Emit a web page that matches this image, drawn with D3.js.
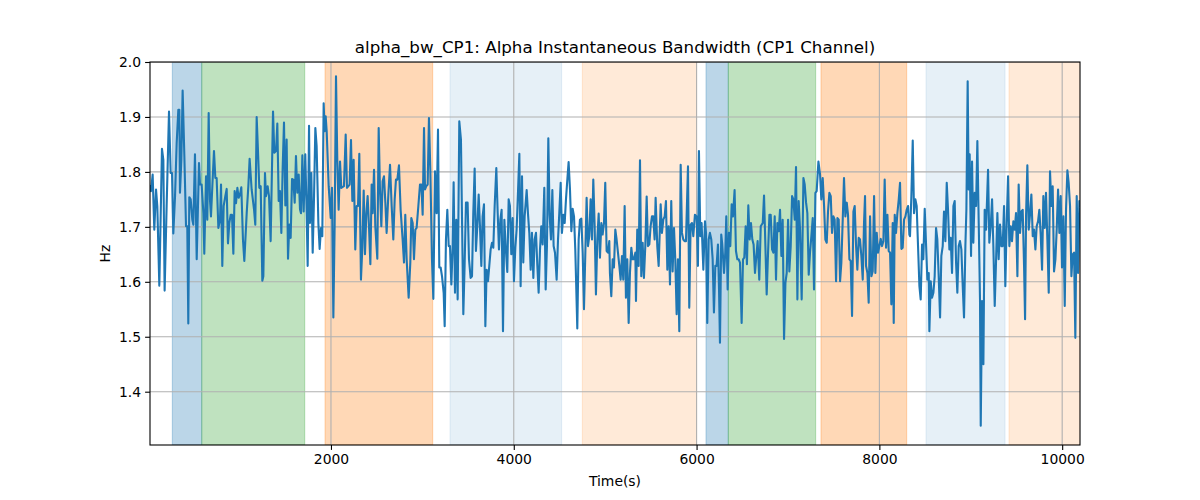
<!DOCTYPE html>
<html>
<head>
<meta charset="utf-8">
<script src="https://cdn.jsdelivr.net/npm/d3@7"></script>
<style>
  body { margin: 0; background: #fff; }
  text { font-family: "DejaVu Sans", sans-serif; fill: #000; }
</style>
</head>
<body>
<div class="Canvas"></div>
<script>
let titleText = 'alpha_bw_CP1: Alpha Instantaneous Bandwidth (CP1 Channel)';
let xLabel = 'Time(s)';
let yLabel = 'Hz';

let xTicks = [2000, 4000, 6000, 8000, 10000];
let yTicks = [1.4, 1.5, 1.6, 1.7, 1.8, 1.9, 2.0];
let xExtent = [20, 10195];
let yExtent = [1.303, 2.0];

// shaded segments: start, end, kind
let spanStart = [264, 586, 1935, 3302, 4750, 6103, 6347, 7361, 8510, 9418];
let spanEnd = [586, 1713, 3113, 4524, 6001, 6347, 7303, 8299, 9375, 10200];
let spanKind = ['blue', 'green', 'orange', 'lightblue', 'lightorange', 'blue', 'green', 'orange', 'lightblue', 'lightorange'];

let timeSec = [
    20, 31, 49, 67, 86, 100, 122, 151, 166, 180, 202, 228, 246, 261, 275, 294, 312, 330, 341, 348,
    363, 377, 396, 414, 428, 439, 450, 465, 483, 494, 512, 531, 556, 567, 585, 604, 614, 633, 647, 662,
    676, 687, 702, 720, 735, 749, 768, 786, 797, 811, 826, 844, 859, 873, 888, 903, 917, 932, 946, 961,
    976, 990, 1005, 1019, 1037, 1052, 1078, 1096, 1110, 1132, 1158, 1172, 1187, 1198, 1216, 1231, 1249, 1260, 1278, 1289,
    1307, 1322, 1340, 1366, 1380, 1399, 1413, 1428, 1442, 1457, 1471, 1486, 1501, 1515, 1530, 1544, 1559, 1574, 1588, 1603,
    1617, 1632, 1647, 1661, 1672, 1687, 1701, 1719, 1734, 1745, 1760,
    1770, 1785, 1800, 1814, 1829, 1843, 1862, 1876, 1891, 1905, 1920, 1931, 1942, 1953, 1975, 1997, 2011, 2026, 2040, 2055,
    2069, 2084, 2099, 2113, 2142, 2161, 2175, 2204, 2219, 2234, 2248, 2266, 2281, 2296, 2310, 2328, 2343, 2358, 2372, 2387,
    2401, 2416, 2431, 2445, 2456, 2471, 2485, 2507, 2522, 2536, 2551, 2565, 2580, 2595, 2609, 2627, 2646, 2664, 2682, 2697,
    2711, 2726, 2744, 2762, 2784, 2799, 2813, 2828, 2850, 2868, 2879, 2894, 2908, 2923, 2937, 2956, 2974, 2989, 3003, 3018,
    3029, 3043, 3058, 3072, 3087, 3105, 3120, 3138, 3156, 3171, 3185, 3200, 3215, 3233, 3244, 3258, 3273, 3288, 3302, 3317,
    3331, 3342, 3357, 3371, 3386, 3404,
    3422, 3448, 3462, 3477, 3495, 3510, 3528, 3543, 3557, 3572, 3586, 3601, 3616, 3630, 3645, 3659, 3674, 3689, 3703, 3718,
    3732, 3747, 3762, 3776, 3791, 3809, 3824, 3838, 3853, 3867, 3882, 3897, 3911, 3929, 3944, 3958, 3973, 3988, 4002, 4017,
    4031, 4046, 4061, 4075, 4090, 4104, 4119, 4141, 4155, 4170, 4185, 4199, 4214, 4228, 4243, 4258, 4272, 4287, 4301, 4316,
    4334, 4349, 4363, 4378, 4392, 4407, 4422, 4436, 4451, 4469, 4484, 4498, 4513, 4527, 4542, 4557, 4571, 4586, 4600, 4615,
    4630, 4644, 4659, 4673, 4695, 4710, 4724, 4739, 4754, 4768, 4783, 4797, 4812, 4826, 4841, 4856, 4870, 4885, 4899, 4914,
    4929, 4943, 4958, 4972, 4987, 5001, 5016, 5031, 5045,
    5052, 5067, 5082, 5096, 5111, 5125, 5140, 5155, 5169, 5184, 5198, 5213, 5227, 5242, 5257, 5271, 5286, 5300, 5315, 5330,
    5337, 5351, 5366, 5381, 5395, 5410, 5424, 5439, 5454, 5468, 5483, 5497, 5512, 5526, 5541, 5552, 5570, 5585, 5607, 5621,
    5636, 5651, 5665, 5680, 5694, 5709, 5723, 5738, 5753, 5767, 5782, 5796, 5811, 5826, 5840, 5855, 5869, 5884, 5906, 5920,
    5935, 5950, 5964, 5982, 6001, 6015, 6026, 6041, 6055, 6074, 6092, 6103, 6117, 6132, 6146, 6161, 6176, 6190, 6205, 6219,
    6234, 6245, 6256, 6270, 6281, 6300, 6314, 6325, 6340, 6354, 6369, 6384, 6398, 6416, 6431, 6446, 6460, 6475, 6493, 6508,
    6522, 6537, 6551, 6566, 6581, 6595, 6610, 6624, 6639, 6654, 6668, 6686,
    6702, 6724, 6738, 6753, 6767, 6782, 6797, 6811, 6826, 6840, 6855, 6869, 6884, 6899, 6913, 6928, 6942, 6957, 6972, 6986,
    7001, 7015, 7030, 7045, 7059, 7074, 7088, 7103, 7117, 7132, 7150, 7169, 7183, 7198, 7212, 7227, 7241, 7256, 7271, 7285,
    7300, 7314, 7333, 7351, 7365, 7380, 7395, 7409, 7424, 7438, 7453, 7468, 7482, 7497, 7511, 7526, 7541, 7555, 7570, 7584,
    7599, 7613, 7628, 7643, 7657, 7672, 7686, 7701, 7716, 7730, 7745, 7759, 7774, 7788, 7803, 7818, 7832, 7843, 7854, 7869,
    7883, 7898, 7913, 7927, 7942, 7956, 7971, 7985, 8000, 8015, 8029, 8044, 8058, 8073, 8088, 8102, 8117, 8131, 8146, 8157,
    8168, 8182, 8197, 8212, 8226, 8241, 8255, 8270, 8285, 8299, 8314, 8328,
    8335, 8350, 8365, 8379, 8394, 8408, 8423, 8438, 8452, 8467, 8481, 8496, 8510, 8525, 8540, 8547, 8562, 8576, 8591, 8605,
    8620, 8634, 8649, 8664, 8678, 8693, 8707, 8722, 8737, 8751, 8766, 8780, 8795, 8810, 8824, 8839, 8853, 8868, 8882, 8897,
    8912, 8926, 8941, 8952, 8966, 8977, 8988, 9003, 9014, 9028, 9043, 9058, 9072, 9087, 9101, 9109, 9123, 9138, 9152, 9167,
    9189, 9203, 9218, 9233, 9247, 9262, 9276, 9291, 9305, 9320, 9335, 9349, 9364, 9378, 9393, 9408, 9422, 9437, 9451, 9466,
    9481, 9495, 9510, 9524, 9539, 9554, 9568, 9583, 9594, 9605, 9619, 9634, 9648, 9663, 9678, 9692, 9707, 9721, 9736, 9750,
    9765, 9780, 9794, 9809, 9823, 9838, 9853, 9867, 9882, 9896, 9911, 9926, 9940, 9955, 9969, 9984, 9998, 10013, 10028, 10042,
    10057, 10071, 10086, 10101, 10115, 10130, 10144, 10159, 10174, 10188, 10195
];

let alphaBw = [
    1.774, 1.765, 1.795, 1.695, 1.768, 1.738, 1.593, 1.842, 1.822, 1.584, 1.738, 1.910, 1.798, 1.798, 1.688, 1.756, 1.853, 1.913, 1.913, 1.762,
    1.822, 1.948, 1.828, 1.701, 1.701, 1.524, 1.754, 1.750, 1.713, 1.704, 1.832, 1.641, 1.816, 1.777, 1.777, 1.725, 1.651, 1.792, 1.713, 1.907,
    1.750, 1.719, 1.774, 1.838, 1.789, 1.789, 1.698, 1.713, 1.777, 1.629, 1.738, 1.756, 1.769, 1.670, 1.707, 1.722, 1.722, 1.651, 1.765, 1.743,
    1.771, 1.753, 1.759, 1.772, 1.677, 1.638, 1.725, 1.774, 1.824, 1.768, 1.732, 1.704, 1.900, 1.853, 1.771, 1.774, 1.602, 1.610, 1.798, 1.756,
    1.774, 1.756, 1.674, 1.910, 1.835, 1.838, 1.888, 1.747, 1.765, 1.689, 1.804, 1.890, 1.739, 1.859, 1.642, 1.704, 1.680, 1.787, 1.786, 1.744,
    1.829, 1.762, 1.795, 1.732, 1.725, 1.830, 1.728, 1.832, 1.725, 1.629, 1.884,
    1.707, 1.798, 1.653, 1.750, 1.880, 1.847, 1.707, 1.660, 1.698, 1.683, 1.925, 1.874, 1.901, 1.874, 1.774, 1.716, 1.771, 1.535, 1.701, 1.974,
    1.822, 1.731, 1.819, 1.771, 1.774, 1.868, 1.771, 1.777, 1.858, 1.747, 1.822, 1.659, 1.738, 1.738, 1.833, 1.604, 1.662, 1.766, 1.650, 1.725,
    1.756, 1.701, 1.632, 1.777, 1.725, 1.804, 1.701, 1.642, 1.880, 1.768, 1.701, 1.783, 1.792, 1.744, 1.689, 1.756, 1.813, 1.738, 1.677, 1.750,
    1.786, 1.786, 1.812, 1.731, 1.677, 1.635, 1.722, 1.641, 1.571, 1.635, 1.716, 1.707, 1.641, 1.695, 1.698, 1.738, 1.777, 1.777, 1.722, 1.880,
    1.768, 1.774, 1.777, 1.898, 1.804, 1.641, 1.569, 1.801, 1.725, 1.877, 1.626, 1.626, 1.610, 1.580, 1.519, 1.677, 1.731, 1.665, 1.665, 1.595,
    1.662, 1.781, 1.580, 1.713, 1.568, 1.892,
    1.859, 1.541, 1.629, 1.744, 1.744, 1.641, 1.607, 1.610, 1.725, 1.806, 1.656, 1.701, 1.759, 1.701, 1.629, 1.719, 1.741, 1.519, 1.622, 1.601,
    1.629, 1.659, 1.671, 1.662, 1.738, 1.807, 1.725, 1.659, 1.713, 1.731, 1.510, 1.713, 1.665, 1.618, 1.750, 1.738, 1.650, 1.716, 1.601, 1.662,
    1.695, 1.762, 1.833, 1.592, 1.792, 1.635, 1.719, 1.767, 1.725, 1.689, 1.622, 1.689, 1.607, 1.677, 1.689, 1.629, 1.580, 1.659, 1.701, 1.668,
    1.771, 1.586, 1.665, 1.861, 1.722, 1.677, 1.767, 1.665, 1.653, 1.604, 1.677, 1.725, 1.780, 1.689, 1.722, 1.707, 1.750, 1.786, 1.818, 1.768,
    1.692, 1.733, 1.719, 1.659, 1.515, 1.677, 1.713, 1.715, 1.653, 1.550, 1.653, 1.753, 1.665, 1.683, 1.750, 1.677, 1.786, 1.701, 1.577, 1.677,
    1.724, 1.644, 1.707, 1.686, 1.707, 1.780, 1.656, 1.653, 1.674,
    1.616, 1.574, 1.641, 1.626, 1.695, 1.677, 1.653, 1.629, 1.604, 1.647, 1.604, 1.738, 1.571, 1.641, 1.525, 1.616, 1.662, 1.641, 1.641, 1.653,
    1.565, 1.695, 1.629, 1.821, 1.610, 1.671, 1.607, 1.665, 1.755, 1.665, 1.668, 1.701, 1.719, 1.719, 1.677, 1.753, 1.665, 1.629, 1.741, 1.689,
    1.713, 1.719, 1.747, 1.622, 1.701, 1.595, 1.747, 1.619, 1.698, 1.641, 1.541, 1.641, 1.510, 1.813, 1.689, 1.677, 1.674, 1.674, 1.810, 1.553,
    1.704, 1.707, 1.683, 1.722, 1.719, 1.629, 1.838, 1.683, 1.707, 1.622, 1.710, 1.689, 1.525, 1.677, 1.689, 1.677, 1.641, 1.544, 1.629, 1.629,
    1.668, 1.592, 1.489, 1.686, 1.668, 1.616, 1.653, 1.719, 1.586, 1.689, 1.665, 1.741, 1.719, 1.767, 1.656, 1.641, 1.641, 1.635, 1.525, 1.641,
    1.644, 1.701, 1.632, 1.739, 1.677, 1.707, 1.677, 1.668, 1.616, 1.647, 1.674, 1.604,
    1.701, 1.707, 1.757, 1.665, 1.577, 1.653, 1.722, 1.722, 1.659, 1.653, 1.719, 1.604, 1.707, 1.692, 1.731, 1.647, 1.713, 1.496, 1.598, 1.616,
    1.713, 1.619, 1.665, 1.756, 1.750, 1.713, 1.809, 1.568, 1.747, 1.695, 1.568, 1.789, 1.777, 1.744, 1.725, 1.613, 1.653, 1.683, 1.716, 1.586,
    1.762, 1.765, 1.819, 1.795, 1.750, 1.789, 1.738, 1.677, 1.671, 1.728, 1.762, 1.756, 1.689, 1.719, 1.713, 1.601, 1.716, 1.713, 1.601, 1.635,
    1.713, 1.789, 1.719, 1.744, 1.722, 1.641, 1.638, 1.538, 1.728, 1.738, 1.665, 1.622, 1.680, 1.677, 1.647, 1.604, 1.707, 1.756, 1.629, 1.616,
    1.562, 1.719, 1.610, 1.619, 1.756, 1.616, 1.689, 1.653, 1.665, 1.678, 1.665, 1.674, 1.786, 1.662, 1.722, 1.656, 1.653, 1.559, 1.707, 1.525,
    1.722, 1.689, 1.725, 1.750, 1.780, 1.660, 1.662, 1.713, 1.719, 1.731, 1.738, 1.686,
    1.683, 1.756, 1.857, 1.725, 1.750, 1.738, 1.665, 1.592, 1.568, 1.668, 1.641, 1.733, 1.671, 1.604, 1.616, 1.510, 1.601, 1.571, 1.580, 1.610,
    1.698, 1.677, 1.610, 1.535, 1.647, 1.665, 1.728, 1.674, 1.780, 1.731, 1.659, 1.680, 1.616, 1.738, 1.747, 1.635, 1.580, 1.665, 1.674, 1.659,
    1.592, 1.535, 1.665, 1.731, 1.965, 1.768, 1.832, 1.647, 1.819, 1.671, 1.762, 1.738, 1.856, 1.707, 1.568, 1.338, 1.565, 1.450, 1.731, 1.695,
    1.804, 1.671, 1.701, 1.750, 1.665, 1.556, 1.635, 1.725, 1.641, 1.704, 1.665, 1.665, 1.738, 1.592, 1.707, 1.792, 1.665, 1.701, 1.674, 1.710,
    1.695, 1.725, 1.610, 1.777, 1.689, 1.728, 1.731, 1.629, 1.532, 1.722, 1.812, 1.695, 1.722, 1.759, 1.683, 1.695, 1.659, 1.701, 1.710, 1.731,
    1.686, 1.622, 1.756, 1.698, 1.762, 1.677, 1.580, 1.801, 1.738, 1.774, 1.619, 1.641, 1.695, 1.768, 1.689, 1.756, 1.626, 1.719, 1.556, 1.731,
    1.803, 1.780, 1.738, 1.610, 1.650, 1.653, 1.498, 1.756, 1.616, 1.747, 1.738
];

let width = 1200;
let height = 500;
let margin = { left: 150, right: 120, top: 62, bottom: 55 };
let plotW = width - margin.left - margin.right;
let plotH = height - margin.top - margin.bottom;

let spanColors = {
    blue: { fill: '#1f77b4', opacity: 0.3 },
    green: { fill: '#2ca02c', opacity: 0.3 },
    orange: { fill: '#ff7f0e', opacity: 0.3 },
    lightblue: { fill: '#1f77b4', opacity: 0.11 },
    lightorange: { fill: '#ff7f0e', opacity: 0.16 },
};

let svg = d3.select('.Canvas').append('svg').attr('width', width).attr('height', height);
svg.append('rect').attr('width', width).attr('height', height).attr('fill', '#fff');

let x = d3.scaleLinear().domain(xExtent).range([0, plotW]);
let y = d3.scaleLinear().domain(yExtent).range([plotH, 0]);

svg.append('defs').append('clipPath').attr('id', 'plotClip')
    .append('rect').attr('width', plotW).attr('height', plotH);

let g = svg.append('g').attr('transform', `translate(${margin.left},${margin.top})`);
let inner = g.append('g').attr('clip-path', 'url(#plotClip)');

// spans
let spans = spanStart.map((s, i) => ({ start: s, end: spanEnd[i], kind: spanKind[i] }));
inner.selectAll('rect.span')
    .data(spans)
    .enter()
    .append('rect')
    .attr('class', 'span')
    .attr('x', (d) => x(d.start))
    .attr('y', 0)
    .attr('width', (d) => x(d.end) - x(d.start))
    .attr('height', plotH)
    .attr('fill', (d) => spanColors[d.kind].fill)
    .attr('fill-opacity', (d) => spanColors[d.kind].opacity)
    .attr('stroke', (d) => spanColors[d.kind].fill)
    .attr('stroke-opacity', (d) => spanColors[d.kind].opacity)
    .attr('stroke-width', 1);

// grid
inner.selectAll('line.xgrid')
    .data(xTicks)
    .enter()
    .append('line')
    .attr('x1', (d) => x(d)).attr('x2', (d) => x(d))
    .attr('y1', 0).attr('y2', plotH)
    .attr('stroke', '#b0b0b0').attr('stroke-width', 1.1);
inner.selectAll('line.ygrid')
    .data(yTicks)
    .enter()
    .append('line')
    .attr('x1', 0).attr('x2', plotW)
    .attr('y1', (d) => y(d)).attr('y2', (d) => y(d))
    .attr('stroke', '#b0b0b0').attr('stroke-width', 1.1);

// series
let points = timeSec.map((t, i) => [t, alphaBw[i]]);
let line = d3.line().x((d) => x(d[0])).y((d) => y(d[1]));
inner.append('path')
    .datum(points)
    .attr('d', line)
    .attr('fill', 'none')
    .attr('stroke', '#1f77b4')
    .attr('stroke-width', 2.1)
    .attr('stroke-linejoin', 'round')
    .attr('stroke-linecap', 'square');

// axes
let xAxis = d3.axisBottom(x).tickValues(xTicks).tickFormat(d3.format('d')).tickSize(4.9).tickPadding(4);
let yAxis = d3.axisLeft(y).tickValues(yTicks).tickFormat(d3.format('.1f')).tickSize(4.9).tickPadding(4);

let gx = g.append('g').attr('transform', `translate(0,${plotH})`).call(xAxis);
let gy = g.append('g').call(yAxis);
[gx, gy].forEach((a) => {
    a.select('.domain').remove();
    a.selectAll('line').attr('stroke', '#000').attr('stroke-width', 1.1);
    a.selectAll('text').attr('font-size', '13.9px').attr('font-family', 'DejaVu Sans').attr('fill', '#000');
});

// frame
g.append('rect')
    .attr('width', plotW).attr('height', plotH)
    .attr('fill', 'none').attr('stroke', '#000').attr('stroke-width', 1.1);

// labels
svg.append('text')
    .attr('x', margin.left + plotW / 2).attr('y', 53)
    .attr('text-anchor', 'middle').attr('font-size', '16.7px')
    .text(titleText);
svg.append('text')
    .attr('x', margin.left + plotW / 2).attr('y', 486)
    .attr('text-anchor', 'middle').attr('font-size', '13.9px')
    .text(xLabel);
svg.append('text')
    .attr('transform', `translate(110,${margin.top + plotH / 2}) rotate(-90)`)
    .attr('text-anchor', 'middle').attr('font-size', '13.9px')
    .text(yLabel);
</script>
</body>
</html>
